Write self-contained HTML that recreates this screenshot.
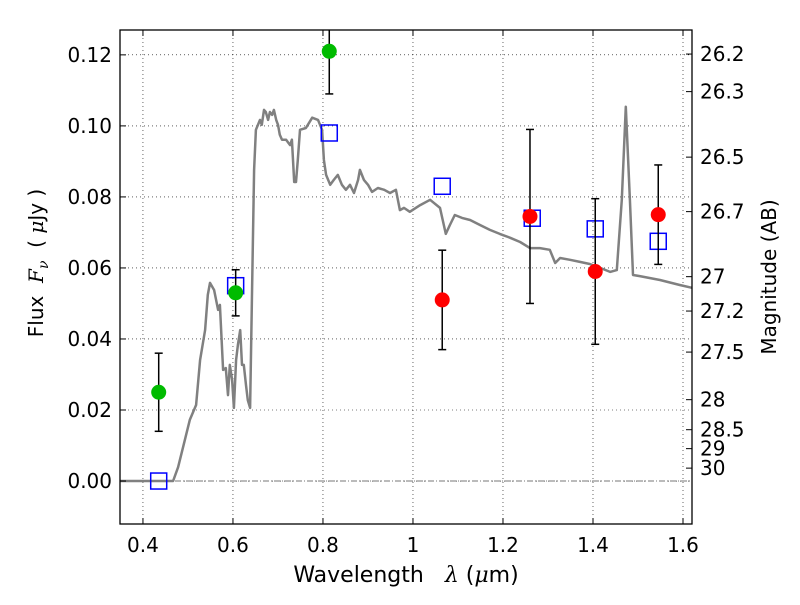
<!DOCTYPE html>
<html><head><meta charset="utf-8"><style>
body{margin:0;background:#fff}
svg{font-family:"DejaVu Sans","Liberation Sans",sans-serif}
</style></head><body>
<svg id="chart" width="800" height="600" xmlns="http://www.w3.org/2000/svg"></svg>
<script>
const specX=[0.349,0.467,0.478,0.493,0.504,0.518,0.527,0.538,0.544,0.549,0.558,0.567,0.571,0.578,0.584,0.589,0.593,0.598,0.602,0.607,0.611,0.616,0.620,0.624,0.629,0.633,0.638,0.642,0.647,0.651,0.660,0.664,0.669,0.673,0.678,0.682,0.687,0.691,0.696,0.700,0.704,0.709,0.718,0.727,0.731,0.736,0.740,0.744,0.749,0.762,0.776,0.789,0.798,0.802,0.807,0.816,0.824,0.833,0.842,0.851,0.860,0.869,0.878,0.882,0.891,0.900,0.909,0.922,0.936,0.949,0.962,0.971,0.980,0.993,1.016,1.038,1.060,1.073,1.082,1.093,1.109,1.127,1.149,1.171,1.193,1.216,1.238,1.260,1.282,1.304,1.316,1.327,1.349,1.371,1.393,1.416,1.438,1.453,1.464,1.473,1.482,1.489,1.504,1.549,1.593,1.620];
const specY=[0,0,0.0039,0.0115,0.0172,0.0214,0.0341,0.0425,0.0524,0.0558,0.0538,0.0482,0.0496,0.0313,0.0318,0.0242,0.0327,0.0285,0.0206,0.0341,0.0383,0.0425,0.0327,0.0327,0.0270,0.0228,0.0206,0.0510,0.0876,0.0989,0.1017,0.1003,0.1045,0.1039,0.1017,0.1039,0.1031,0.1045,0.1017,0.1003,0.0975,0.0961,0.0961,0.0946,0.0961,0.0842,0.0842,0.0904,0.0989,0.0994,0.1023,0.1017,0.0989,0.0904,0.0862,0.0834,0.0848,0.0862,0.0834,0.0820,0.0834,0.0811,0.0848,0.0876,0.0848,0.0834,0.0814,0.0825,0.0820,0.0811,0.0820,0.0763,0.0769,0.0758,0.0777,0.0792,0.0769,0.0696,0.0721,0.0749,0.0741,0.0735,0.0721,0.0707,0.0696,0.0685,0.0673,0.0656,0.0656,0.0651,0.0614,0.0628,0.0623,0.0617,0.0611,0.0600,0.0589,0.0594,0.0792,0.1054,0.0792,0.0580,0.0577,0.0566,0.0552,0.0544];
const greenX=[0.435,0.606,0.814];
const greenY=[0.025,0.053,0.121];
const greenErr=[0.011,0.0065,0.012];
const redX=[1.065,1.26,1.405,1.545];
const redY=[0.051,0.0745,0.059,0.075];
const redErr=[0.014,0.0245,0.0205,0.014];
const blueX=[0.435,0.606,0.814,1.065,1.265,1.405,1.545];
const blueY=[0.0,0.055,0.098,0.083,0.074,0.071,0.0675];
const xTicks=[0.4,0.6,0.8,1.0,1.2,1.4,1.6];
const xTickLabels=["0.4","0.6","0.8","1","1.2","1.4","1.6"];
const yTicks=[0,0.02,0.04,0.06,0.08,0.10,0.12];
const yTickLabels=["0.00","0.02","0.04","0.06","0.08","0.10","0.12"];
const magTicks=[26.2,26.3,26.5,26.7,27,27.2,27.5,28,28.5,29,30];
const magLabels=["26.2","26.3","26.5","26.7","27","27.2","27.5","28","28.5","29","30"];

const L=120,R=692,T=30,B=524;
const X0=0.349,X1=1.620,Y0=-0.0121,Y1=0.1270;
const sx=v=>L+(v-X0)/(X1-X0)*(R-L);
const sy=v=>B-(v-Y0)/(Y1-Y0)*(B-T);
const svg=document.getElementById('chart');
const NS='http://www.w3.org/2000/svg';
function mk(tag,attrs,parent){const e=document.createElementNS(NS,tag);for(const k in attrs)e.setAttribute(k,attrs[k]);(parent||svg).appendChild(e);return e;}

const grid=mk('g',{});


xTicks.forEach(t=>{mk('line',{x1:sx(t),x2:sx(t),y1:T,y2:B,stroke:'#000','stroke-width':0.6,'stroke-dasharray':'1,3'},grid);});
yTicks.forEach(t=>{mk('line',{x1:L,x2:R,y1:sy(t),y2:sy(t),stroke:'#000','stroke-width':0.6,'stroke-dasharray':'1,3'},grid);});
const zl=mk('line',{x1:L,x2:R,y1:sy(0),y2:sy(0),stroke:'#777','stroke-width':1,'stroke-dasharray':'6,2,1,2'});



let d='';specX.forEach((x,i)=>{d+=(i?'L':'M')+sx(x).toFixed(1)+','+sy(specY[i]).toFixed(1);});
const sp=mk('path',{d:d,fill:'none',stroke:'#808080','stroke-width':2.5,'stroke-linejoin':'round'});



blueX.forEach((x,i)=>{
 const r=mk('rect',{x:sx(x)-8,y:sy(blueY[i])-8,width:16,height:16,fill:'none',stroke:'#0000ff','stroke-width':1.5});
 
 
});
function pts(xs,ys,es,col,name){
 xs.forEach((x,i)=>{
  const g=mk('g',{});
  
  
  const cx=sx(x),lo=sy(ys[i]-es[i]),hi=sy(ys[i]+es[i]);
  mk('line',{x1:cx,x2:cx,y1:lo,y2:hi,stroke:'#000','stroke-width':1.5},g);
  mk('line',{x1:cx-4,x2:cx+4,y1:lo,y2:lo,stroke:'#000','stroke-width':1.5},g);
  mk('line',{x1:cx-4,x2:cx+4,y1:hi,y2:hi,stroke:'#000','stroke-width':1.5},g);
  mk('circle',{cx:cx,cy:sy(ys[i]),r:7.5,fill:col},g);
 });
}
pts(greenX,greenY,greenErr,'#00bb00','hst-detection');
pts(redX,redY,redErr,'#ff0000','ir-detection');

mk('rect',{x:0,y:0,width:800,height:T,fill:'#fff'});
const fr=mk('rect',{x:L,y:T,width:R-L,height:B-T,fill:'none',stroke:'#000','stroke-width':1.3});



xTicks.forEach((t,i)=>{
 mk('line',{x1:sx(t),x2:sx(t),y1:B,y2:B-6,stroke:'#000'});
 mk('line',{x1:sx(t),x2:sx(t),y1:T,y2:T+6,stroke:'#000'});
 const tx=mk('text',{x:sx(t),y:B+28,'font-size':20,'text-anchor':'middle'});
 
 
 tx.textContent=xTickLabels[i];
});
yTicks.forEach((t,i)=>{
 mk('line',{x1:L,x2:L+6,y1:sy(t),y2:sy(t),stroke:'#000'});
 const tx=mk('text',{x:L-8,y:sy(t)+7,'font-size':20,'text-anchor':'end'});
 
 
 tx.textContent=yTickLabels[i];
});
magTicks.forEach((m,i)=>{
 const f=Math.pow(10,(23.9-m)/2.5);
 const y=sy(f);
 mk('line',{x1:R,x2:R-6,y1:y,y2:y,stroke:'#000'});
 const tx=mk('text',{x:R+8,y:y+7,'font-size':20,'text-anchor':'start'});
 
 
 tx.textContent=magLabels[i];
});
</script>
<svg width="800" height="600" style="position:absolute;left:0;top:0">
<text x="406" y="582" font-size="22" text-anchor="middle" font-family="DejaVu Sans,sans-serif" xml:space="preserve">Wavelength   <tspan font-style="italic" font-family="DejaVu Serif,serif">λ</tspan> (<tspan font-style="italic" font-family="DejaVu Serif,serif">μ</tspan>m)</text>
<text transform="translate(43,263) rotate(-90)" font-size="20" text-anchor="middle" font-family="DejaVu Sans,sans-serif" xml:space="preserve">Flux  <tspan font-style="italic" font-family="DejaVu Serif,serif">F<tspan font-size="14" dy="5">ν</tspan></tspan><tspan dy="-5">  ( </tspan><tspan font-style="italic" font-family="DejaVu Serif,serif">μ</tspan>Jy )</text>
<text transform="translate(776,277) rotate(-90)" font-size="20" text-anchor="middle" font-family="DejaVu Sans,sans-serif">Magnitude (AB)</text>
</svg>
</body></html>
